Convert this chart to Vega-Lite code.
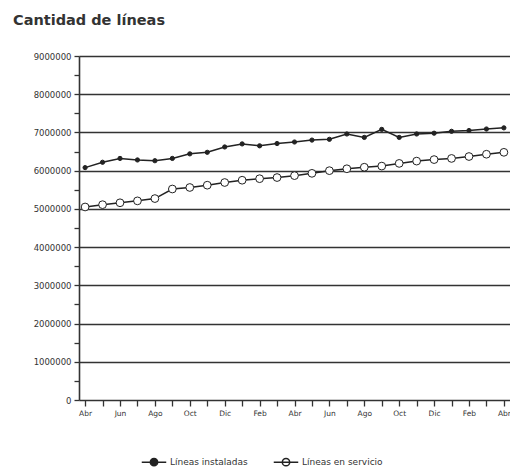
{
  "$schema": "https://vega.github.io/schema/vega-lite/v6.json",
  "width": 431,
  "height": 344,
  "autosize": {"type": "none"},
  "padding": {"left": 79, "top": 56, "right": 0, "bottom": 69},
  "background": "white",
  "title": {
    "text": "Cantidad de líneas",
    "anchor": "start",
    "frame": "group",
    "dx": -66,
    "offset": 13,
    "baseline": "alphabetic",
    "font": "DejaVu Sans",
    "fontSize": 14.5,
    "fontWeight": "bold",
    "color": "#333"
  },
  "config": {
    "view": {"stroke": null},
    "font": "DejaVu Sans"
  },
  "data": {
    "values": [
      {"fecha": "1995-04", "serie": "Líneas instaladas", "valor": 6080000},
      {"fecha": "1995-05", "serie": "Líneas instaladas", "valor": 6220000},
      {"fecha": "1995-06", "serie": "Líneas instaladas", "valor": 6320000},
      {"fecha": "1995-07", "serie": "Líneas instaladas", "valor": 6280000},
      {"fecha": "1995-08", "serie": "Líneas instaladas", "valor": 6260000},
      {"fecha": "1995-09", "serie": "Líneas instaladas", "valor": 6320000},
      {"fecha": "1995-10", "serie": "Líneas instaladas", "valor": 6440000},
      {"fecha": "1995-11", "serie": "Líneas instaladas", "valor": 6480000},
      {"fecha": "1995-12", "serie": "Líneas instaladas", "valor": 6620000},
      {"fecha": "1996-01", "serie": "Líneas instaladas", "valor": 6700000},
      {"fecha": "1996-02", "serie": "Líneas instaladas", "valor": 6650000},
      {"fecha": "1996-03", "serie": "Líneas instaladas", "valor": 6710000},
      {"fecha": "1996-04", "serie": "Líneas instaladas", "valor": 6750000},
      {"fecha": "1996-05", "serie": "Líneas instaladas", "valor": 6800000},
      {"fecha": "1996-06", "serie": "Líneas instaladas", "valor": 6820000},
      {"fecha": "1996-07", "serie": "Líneas instaladas", "valor": 6960000},
      {"fecha": "1996-08", "serie": "Líneas instaladas", "valor": 6870000},
      {"fecha": "1996-09", "serie": "Líneas instaladas", "valor": 7080000},
      {"fecha": "1996-10", "serie": "Líneas instaladas", "valor": 6870000},
      {"fecha": "1996-11", "serie": "Líneas instaladas", "valor": 6960000},
      {"fecha": "1996-12", "serie": "Líneas instaladas", "valor": 6980000},
      {"fecha": "1997-01", "serie": "Líneas instaladas", "valor": 7030000},
      {"fecha": "1997-02", "serie": "Líneas instaladas", "valor": 7050000},
      {"fecha": "1997-03", "serie": "Líneas instaladas", "valor": 7090000},
      {"fecha": "1997-04", "serie": "Líneas instaladas", "valor": 7120000},
      {"fecha": "1995-04", "serie": "Líneas en servicio", "valor": 5050000},
      {"fecha": "1995-05", "serie": "Líneas en servicio", "valor": 5110000},
      {"fecha": "1995-06", "serie": "Líneas en servicio", "valor": 5160000},
      {"fecha": "1995-07", "serie": "Líneas en servicio", "valor": 5210000},
      {"fecha": "1995-08", "serie": "Líneas en servicio", "valor": 5270000},
      {"fecha": "1995-09", "serie": "Líneas en servicio", "valor": 5520000},
      {"fecha": "1995-10", "serie": "Líneas en servicio", "valor": 5560000},
      {"fecha": "1995-11", "serie": "Líneas en servicio", "valor": 5620000},
      {"fecha": "1995-12", "serie": "Líneas en servicio", "valor": 5690000},
      {"fecha": "1996-01", "serie": "Líneas en servicio", "valor": 5750000},
      {"fecha": "1996-02", "serie": "Líneas en servicio", "valor": 5790000},
      {"fecha": "1996-03", "serie": "Líneas en servicio", "valor": 5820000},
      {"fecha": "1996-04", "serie": "Líneas en servicio", "valor": 5870000},
      {"fecha": "1996-05", "serie": "Líneas en servicio", "valor": 5930000},
      {"fecha": "1996-06", "serie": "Líneas en servicio", "valor": 6000000},
      {"fecha": "1996-07", "serie": "Líneas en servicio", "valor": 6050000},
      {"fecha": "1996-08", "serie": "Líneas en servicio", "valor": 6090000},
      {"fecha": "1996-09", "serie": "Líneas en servicio", "valor": 6120000},
      {"fecha": "1996-10", "serie": "Líneas en servicio", "valor": 6190000},
      {"fecha": "1996-11", "serie": "Líneas en servicio", "valor": 6250000},
      {"fecha": "1996-12", "serie": "Líneas en servicio", "valor": 6290000},
      {"fecha": "1997-01", "serie": "Líneas en servicio", "valor": 6320000},
      {"fecha": "1997-02", "serie": "Líneas en servicio", "valor": 6370000},
      {"fecha": "1997-03", "serie": "Líneas en servicio", "valor": 6430000},
      {"fecha": "1997-04", "serie": "Líneas en servicio", "valor": 6480000}
    ]
  },
  "encoding": {
    "x": {
      "field": "fecha",
      "type": "ordinal",
      "sort": null,
      "scale": {"type": "point", "padding": 0.35},
      "axis": {
        "title": null,
        "labelAngle": 0,
        "labelExpr": "(toNumber(slice(datum.value,5)) % 2 == 0) ? ['Ene','Feb','Mar','Abr','May','Jun','Jul','Ago','Sep','Oct','Nov','Dic'][toNumber(slice(datum.value,5))-1] : ''",
        "labelFont": "DejaVu Sans",
        "labelFontSize": 7.5,
        "labelColor": "#333",
        "labelPadding": 3,
        "tickSize": 6,
        "tickColor": "#333",
        "tickWidth": 1.3,
        "domainColor": "#333",
        "domainWidth": 1.6,
        "grid": false
      }
    },
    "y": {
      "field": "valor",
      "type": "quantitative",
      "scale": {"domain": [0, 9000000], "nice": false},
      "axis": {
        "title": null,
        "values": [0, 500000, 1000000, 1500000, 2000000, 2500000, 3000000, 3500000, 4000000, 4500000, 5000000, 5500000, 6000000, 6500000, 7000000, 7500000, 8000000, 8500000, 9000000],
        "format": "d",
        "labelExpr": "datum.value % 1000000 == 0 ? datum.label : ''",
        "labelFont": "DejaVu Sans",
        "labelFontSize": 8.5,
        "labelColor": "#333",
        "labelPadding": 3,
        "tickSize": 5,
        "tickColor": "#333",
        "tickWidth": 1.3,
        "domainColor": "#333",
        "domainWidth": 1.6,
        "grid": true,
        "gridColor": "#333",
        "gridWidth": 1.5,
        "gridOpacity": {"condition": {"test": "datum.value % 1000000 == 0 && datum.value > 0", "value": 1}, "value": 0}
      }
    }
  },
  "layer": [
    {
      "mark": {"type": "line", "color": "#222", "strokeWidth": 1.5},
      "encoding": {"detail": {"field": "serie"}}
    },
    {
      "transform": [{"filter": "datum.serie == 'Líneas instaladas'"}],
      "mark": {"type": "point", "filled": true, "size": 18, "opacity": 1, "stroke": "#222", "strokeWidth": 1},
      "encoding": {
        "fill": {
          "field": "serie",
          "type": "nominal",
          "scale": {"domain": ["Líneas instaladas", "Líneas en servicio"], "range": ["#222", "white"]},
          "legend": {
            "title": null,
            "orient": "none",
            "direction": "horizontal",
            "legendX": 62,
            "legendY": 393,
            "symbolType": "M-1,0L1,0M0.3,0A0.3,0.3 0 1,1 -0.3,0A0.3,0.3 0 1,1 0.3,0Z",
            "symbolSize": 600,
            "symbolStrokeColor": "#222",
            "symbolStrokeWidth": 1.5,
            "symbolOpacity": 1,
            "labelFont": "DejaVu Sans",
            "labelFontSize": 9,
            "labelColor": "#333",
            "labelOffset": 3,
            "columnPadding": 22
          }
        }
      }
    },
    {
      "transform": [{"filter": "datum.serie == 'Líneas en servicio'"}],
      "mark": {"type": "point", "filled": true, "size": 60, "opacity": 1, "stroke": "#222", "strokeWidth": 1},
      "encoding": {
        "fill": {"field": "serie", "type": "nominal"}
      }
    }
  ]
}
